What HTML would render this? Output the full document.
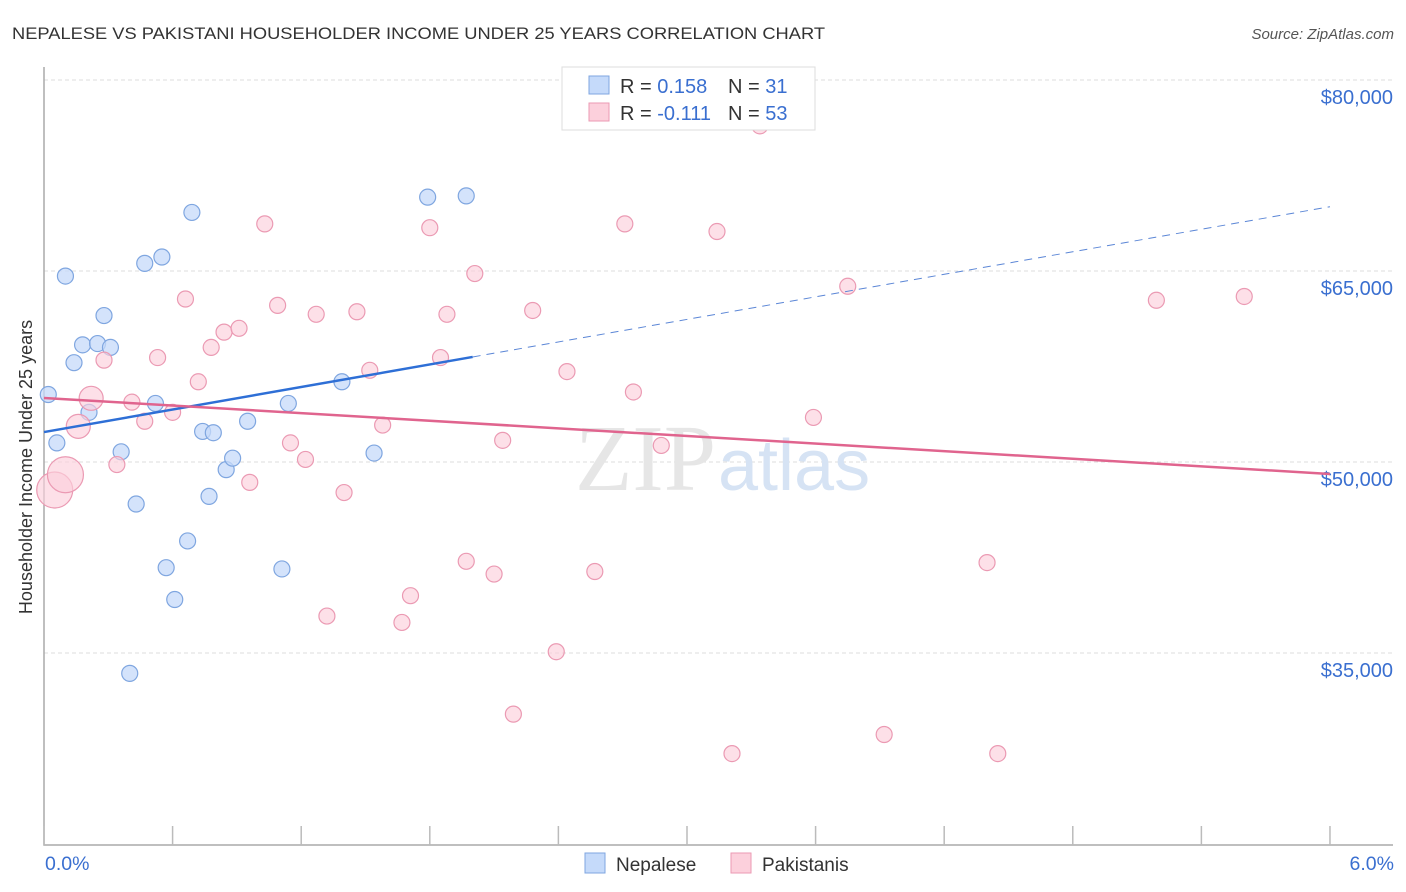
<!DOCTYPE html>
<html><head><meta charset="utf-8"><style>
body{margin:0;background:#fff;font-family:"Liberation Sans",sans-serif}
svg{display:block}
</style></head><body>
<svg width="1406" height="892" xmlns="http://www.w3.org/2000/svg">
<text x="12" y="39" font-size="17" fill="#333" textLength="813" lengthAdjust="spacingAndGlyphs">NEPALESE VS PAKISTANI HOUSEHOLDER INCOME UNDER 25 YEARS CORRELATION CHART</text>
<text x="1394" y="39" font-size="15" fill="#555" font-style="italic" text-anchor="end">Source: ZipAtlas.com</text>
<g id="grid"></g>
<text x="716" y="490" font-size="94" font-family="Liberation Serif,serif" fill="#e6e6e6" text-anchor="end">ZIP</text>
<text x="718" y="490" font-size="72" fill="#d6e3f4">atlas</text>
<g id="axes"></g>
<g id="pts"></g>
<g id="trend"></g>
<text x="20" y="455" font-size="18" fill="#333" transform="rotate(-90 32 455)" text-anchor="middle">Householder Income Under 25 years</text>
<text x="45" y="870" font-size="19.5" fill="#3a6fd0">0.0%</text>
<text x="1394" y="870" font-size="19.5" fill="#3a6fd0" text-anchor="end">6.0%</text>
<g>
<rect x="562" y="67" width="253" height="63" fill="#fff" stroke="#ddd"/>
<rect x="589" y="76" width="20" height="18" fill="#c5dafa" stroke="#7fa6e0"/>
<rect x="589" y="103" width="20" height="18" fill="#fcd0dc" stroke="#eb9ab3"/>
<text x="620" y="93" font-size="20" fill="#333">R = <tspan fill="#3a6fd0">0.158</tspan></text>
<text x="728" y="93" font-size="20" fill="#333">N = <tspan fill="#3a6fd0"> 31</tspan></text>
<text x="620" y="120" font-size="20" fill="#333">R = <tspan fill="#3a6fd0">-0.111</tspan></text>
<text x="728" y="120" font-size="20" fill="#333">N = <tspan fill="#3a6fd0">53</tspan></text>
</g>
<g>
<rect x="585" y="853" width="20" height="20" fill="#c5dafa" stroke="#7fa6e0"/>
<text x="616" y="871" font-size="19" fill="#333">Nepalese</text>
<rect x="731" y="853" width="20" height="20" fill="#fcd0dc" stroke="#eb9ab3"/>
<text x="762" y="871" font-size="19" fill="#333">Pakistanis</text>
</g>
</svg>
<script>
const yTicks=[80000,65000,50000,35000];
const yTickLabels=["$80,000","$65,000","$50,000","$35,000"];
const xTicks=[0,0.6,1.2,1.8,2.4,3.0,3.6,4.2,4.8,5.4,6.0];
const nepX=[0.02,0.06,0.10,0.14,0.18,0.21,0.25,0.28,0.31,0.36,0.40,0.43,0.47,0.52,0.55,0.57,0.61,0.67,0.69,0.74,0.77,0.79,0.85,0.88,0.95,1.11,1.14,1.39,1.54,1.79,1.97];
const nepY=[55300,51500,64600,57800,59200,53900,59300,61500,59000,50800,33400,46700,65600,54600,66100,41700,39200,43800,69600,52400,47300,52300,49400,50300,53200,41600,54600,56300,50700,70800,70900];
const pakX=[0.05,0.10,0.16,0.22,0.28,0.34,0.41,0.47,0.53,0.60,0.66,0.72,0.78,0.84,0.91,0.96,1.03,1.09,1.15,1.22,1.27,1.32,1.40,1.46,1.52,1.58,1.67,1.71,1.80,1.85,1.88,1.97,2.01,2.10,2.14,2.19,2.28,2.39,2.44,2.57,2.71,2.75,2.88,3.14,3.21,3.34,3.59,3.75,3.92,4.40,4.45,5.19,5.60];
const pakY=[47800,49000,52800,55000,58000,49800,54700,53200,58200,53900,62800,56300,59000,60200,60500,48400,68700,62300,51500,50200,61600,37900,47600,61800,57200,52900,37400,39500,68400,58200,61600,42200,64800,41200,51700,30200,61900,35100,57100,41400,68700,55500,51300,68100,27100,76400,53500,63800,28600,42100,27100,62700,63000];
const pakSize=[18,18,12,12];
const nepTrend=[52350,70050];
const pakTrend=[55030,49060];
const nepSolidEnd=2.0;
const NS="http://www.w3.org/2000/svg";
const X=v=>44+v*214.33;
const Y=v=>80+(80000-v)*191/15000;
function mk(t,a,p){const e=document.createElementNS(NS,t);for(const k in a)e.setAttribute(k,a[k]);p.appendChild(e);return e;}
const grid=document.getElementById('grid'),axes=document.getElementById('axes'),pts=document.getElementById('pts'),tr=document.getElementById('trend');
yTicks.forEach((v,i)=>{
 const l=mk('line',{x1:44,x2:1393,y1:Y(v),y2:Y(v),stroke:'#ddd','stroke-dasharray':'4,3'},grid);
 
 
 const t=mk('text',{x:1393,y:Y(v)+24,'font-size':20,fill:'#3a6fd0','text-anchor':'end'},grid);
 t.textContent=yTickLabels[i];
 
 
});
const ax=mk('path',{d:'M44 67V845H1393',fill:'none',stroke:'#aaa','stroke-width':1.5},axes);


xTicks.forEach(v=>{
 const l=mk('line',{x1:X(v),x2:X(v),y1:826,y2:845,stroke:'#bbb','stroke-width':1.5},axes);
 
 
});
nepX.forEach((x,i)=>{
 const c=mk('circle',{cx:X(x),cy:Y(nepY[i]),r:8,fill:'#c5dafa','fill-opacity':0.75,stroke:'#7fa6e0','stroke-width':1.2},pts);
 
 
});
pakX.forEach((x,i)=>{
 const c=mk('circle',{cx:X(x),cy:Y(pakY[i]),r:pakSize[i]||8,fill:'#fcd0dc','fill-opacity':0.65,stroke:'#eb9ab3','stroke-width':1.2},pts);
 
 
});
const ny=x=>nepTrend[0]+(nepTrend[1]-nepTrend[0])*x/6;
const l1=mk('line',{x1:X(0),y1:Y(ny(0)),x2:X(nepSolidEnd),y2:Y(ny(nepSolidEnd)),stroke:'#2e6fd6','stroke-width':2.5},tr);


const l2=mk('line',{x1:X(nepSolidEnd),y1:Y(ny(nepSolidEnd)),x2:X(6),y2:Y(ny(6)),stroke:'#5b86d6','stroke-width':1,'stroke-dasharray':'8,6'},tr);


const l3=mk('line',{x1:X(0),y1:Y(pakTrend[0]),x2:X(6),y2:Y(pakTrend[1]),stroke:'#e0648e','stroke-width':2.5},tr);


</script>
</body></html>
